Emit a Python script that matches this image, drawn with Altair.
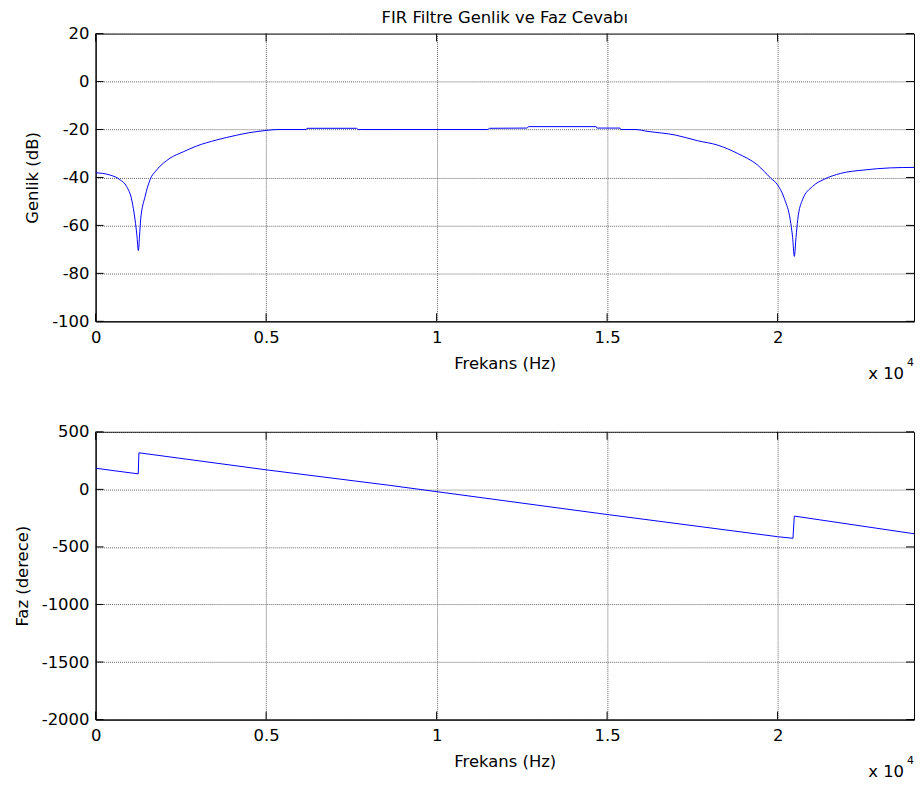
import altair as alt
import pandas as pd

# ---- data ----
freq_mag = [0, 200, 430, 720, 910, 1060, 1157, 1210, 1254, 1290, 1320, 1450, 1595, 1790,
            2180, 2570, 2960, 3540, 4130, 4520, 5000, 5340, 6180, 6200, 7650, 7700,
            11500, 11550, 12650, 12700, 14680, 14700, 15380, 15400, 15820, 16200, 17000,
            17660, 18240, 18830, 19410, 19800, 20000, 20210, 20370, 20440, 20490, 20540,
            20590, 20730, 21020, 21360, 21850, 22530, 23310, 24000]
mag_db = [-38, -38.3, -39, -41, -43.8, -49.4, -57.7, -64, -70.5, -64, -57.7, -48, -41, -36.9,
          -32, -29.3, -26.9, -24.4, -22.4, -21.3, -20.4, -20, -20, -19.5, -19.5, -20,
          -20, -19.5, -19.4, -18.8, -18.8, -19.4, -19.4, -20, -20, -20.8, -22.3,
          -24.7, -26.5, -30, -34.8, -40.3, -43.1, -49.3, -57.6, -65, -72.9, -65,
          -57.6, -49.3, -43.8, -40.8, -38.3, -36.9, -36, -35.8]

freq_ph = [0, 600, 1250, 1270, 5000, 8600, 14740, 20000, 20450, 20490, 23900, 24000]
phase_deg = [184, 160, 135, 318, 170, 36, -208, -411, -425, -232, -381, -385]

x_ticks = [0, 5000, 10000, 15000, 20000]
mag_ticks = [20, 0, -20, -40, -60, -80, -100]
ph_ticks = [500, 0, -500, -1000, -1500, -2000]

title_text = "FIR Filtre Genlik ve Faz Cevabı"
x_title = "Frekans (Hz)"
mag_title = "Genlik (dB)"
ph_title = "Faz (derece)"

W, H = 822, 289
TL = 8
FONT = "DejaVu Sans"
FS = 16.5


def panel(freqs, vals, ydomain, yticks, ytitle, interp):
    xs = alt.Scale(domain=[0, 24000], nice=False, zero=False)
    ys = alt.Scale(domain=ydomain, nice=False, zero=False)
    xaxis = alt.Axis(values=x_ticks, labelExpr="datum.value / 10000",
                     title=x_title, grid=True)
    yaxis = alt.Axis(values=yticks, labelExpr="'' + datum.value",
                     title=ytitle, grid=True)
    df = pd.DataFrame({"f": freqs, "v": vals})
    line = alt.Chart(df).mark_line(color="#0000ff", strokeWidth=1, clip=True,
                                   interpolate=interp).encode(
        x=alt.X("f:Q", scale=xs, axis=xaxis),
        y=alt.Y("v:Q", scale=ys, axis=yaxis),
    )
    xt = pd.DataFrame({"f": x_ticks})
    yt = pd.DataFrame({"v": yticks})
    tick_top = alt.Chart(xt).mark_rule(color="black", strokeWidth=1).encode(
        x=alt.X("f:Q", scale=xs, axis=xaxis), y=alt.value(0), y2=alt.value(TL))
    tick_bot = alt.Chart(xt).mark_rule(color="black", strokeWidth=1).encode(
        x=alt.X("f:Q", scale=xs, axis=xaxis), y=alt.value(H - TL), y2=alt.value(H))
    tick_left = alt.Chart(yt).mark_rule(color="black", strokeWidth=1).encode(
        y=alt.Y("v:Q", scale=ys, axis=yaxis), x=alt.value(0), x2=alt.value(TL))
    tick_right = alt.Chart(yt).mark_rule(color="black", strokeWidth=1).encode(
        y=alt.Y("v:Q", scale=ys, axis=yaxis), x=alt.value(W - TL), x2=alt.value(W))
    mult = alt.Chart(pd.DataFrame({"s": ["x 10"]})).mark_text(
        align="right", baseline="alphabetic", font=FONT, fontSize=FS, color="black"
    ).encode(x=alt.value(812), y=alt.value(H + 58), text="s:N")
    sup = alt.Chart(pd.DataFrame({"s": ["4"]})).mark_text(
        align="left", baseline="alphabetic", font=FONT, fontSize=11, color="black"
    ).encode(x=alt.value(815), y=alt.value(H + 45), text="s:N")
    return alt.layer(line, tick_top, tick_bot, tick_left, tick_right, mult, sup).properties(
        width=W, height=H)


top = panel(freq_mag, mag_db, [-100, 20], mag_ticks, mag_title, "monotone").properties(
    title=alt.Title(title_text, font=FONT, fontSize=FS, fontWeight="normal",
                    color="black", offset=-1, anchor="middle"))
bottom = panel(freq_ph, phase_deg, [-2000, 500], ph_ticks, ph_title, "linear")

chart = alt.vconcat(top, bottom, spacing=111, bounds="flush").properties(
    padding={"left": 5, "top": 0, "right": 0, "bottom": 0}
).configure_view(stroke="black", strokeWidth=1).configure_axis(
    labelFont=FONT, labelFontSize=FS, labelColor="black",
    titleFont=FONT, titleFontSize=FS, titleFontWeight="normal", titleColor="black",
    domainColor="black", domainWidth=1, ticks=False, tickSize=0,
    gridColor="#666666", gridDash=[1, 1], gridWidth=1, gridOpacity=1,
    labelFlush=False,
).configure_axisX(labelPadding=8, titlePadding=10).configure_axisY(
    labelPadding=6.7, titlePadding=11)

chart.save("out.html", embed_options={"renderer": "svg", "actions": False})
